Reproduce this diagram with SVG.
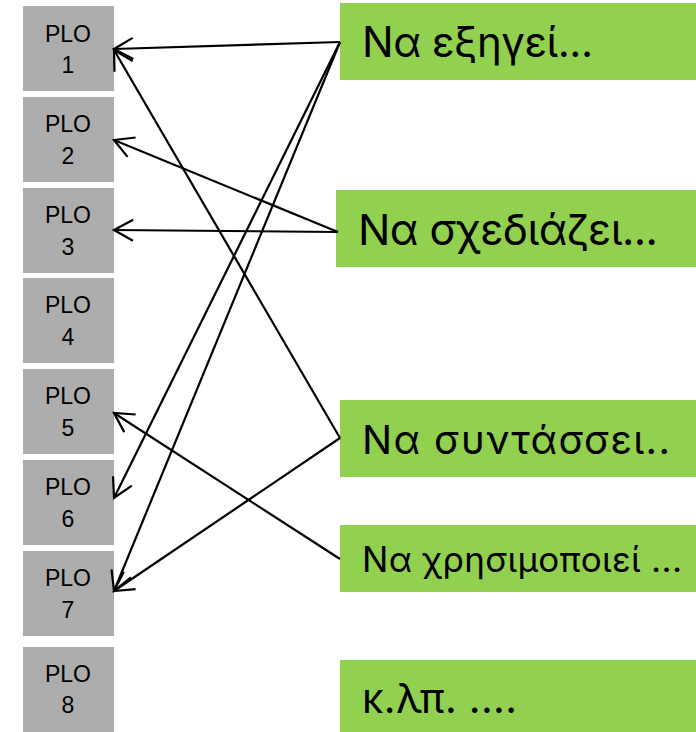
<svg xmlns="http://www.w3.org/2000/svg" width="696" height="732" viewBox="0 0 696 732">
<style>
.plo{fill:#ADADAD}
.pt{font-family:"Liberation Sans",Arial,sans-serif;font-size:23px;fill:#000;text-anchor:middle}
.g{fill:#92D050}
.gt{font-family:Inter,"Noto Sans",sans-serif;fill:#000}
.c{stroke:#000;stroke-width:2.2;fill:none;marker-end:url(#arr)}
</style>
<defs>
<marker id="arr" markerUnits="userSpaceOnUse" markerWidth="40" markerHeight="40" refX="0" refY="0" orient="auto" viewBox="-25 -20 40 40" overflow="visible">
<path d="M-19,-10.5 L0,0 L-19,10.5" fill="none" stroke="#000" stroke-width="2.2"/>
</marker>
</defs>
<rect width="696" height="732" fill="#fff"/>
<g id="plo1"><rect class="plo" x="23" y="6" width="91" height="85"/><text class="pt" x="68" y="42">PLO</text><text class="pt" x="68" y="73">1</text></g>
<g id="plo2"><rect class="plo" x="23" y="97" width="91" height="85"/><text class="pt" x="68" y="132">PLO</text><text class="pt" x="68" y="164">2</text></g>
<g id="plo3"><rect class="plo" x="23" y="188" width="91" height="85"/><text class="pt" x="68" y="223">PLO</text><text class="pt" x="68" y="255">3</text></g>
<g id="plo4"><rect class="plo" x="23" y="278" width="91" height="85"/><text class="pt" x="68" y="313">PLO</text><text class="pt" x="68" y="345">4</text></g>
<g id="plo5"><rect class="plo" x="23" y="369" width="91" height="85"/><text class="pt" x="68" y="404">PLO</text><text class="pt" x="68" y="436">5</text></g>
<g id="plo6"><rect class="plo" x="23" y="460" width="91" height="85"/><text class="pt" x="68" y="495">PLO</text><text class="pt" x="68" y="527">6</text></g>
<g id="plo7"><rect class="plo" x="23" y="551" width="91" height="85"/><text class="pt" x="68" y="586">PLO</text><text class="pt" x="68" y="618">7</text></g>
<g id="plo8"><rect class="plo" x="23" y="647" width="91" height="85"/><text class="pt" x="68" y="682">PLO</text><text class="pt" x="68" y="713">8</text></g>
<g id="a"><rect class="g" x="340" y="3" width="356" height="77"/><text class="gt" x="362" y="57" font-size="42" textLength="231">Να εξηγεί...</text></g>
<g id="b"><rect class="g" x="336" y="190" width="360" height="77"/><text class="gt" x="358" y="245" font-size="43" textLength="300">Να σχεδιάζει...</text></g>
<g id="c"><rect class="g" x="340" y="400" width="356" height="77"/><text class="gt" x="362" y="454" font-size="40" textLength="308">Να συντάσσει..</text></g>
<g id="d"><rect class="g" x="340" y="525" width="356" height="67"/><text class="gt" x="362" y="572" font-size="35" textLength="320">Να χρησιμοποιεί ...</text></g>
<g id="e"><rect class="g" x="340" y="660" width="356" height="72"/><text class="gt" x="362" y="713" font-size="41" textLength="155">κ.λπ. ....</text></g>
<g id="connectors">
<line class="c" x1="340" y1="42" x2="114" y2="49"/>
<line class="c" x1="340" y1="42" x2="114" y2="498"/>
<line class="c" x1="340" y1="42" x2="114" y2="591"/>
<line class="c" x1="338" y1="232" x2="114" y2="140"/>
<line class="c" x1="338" y1="232" x2="114" y2="230"/>
<line class="c" x1="340" y1="438" x2="114" y2="50"/>
<line class="c" x1="340" y1="438" x2="114" y2="591"/>
<line class="c" x1="340" y1="559" x2="114" y2="413"/>
</g>
</svg>
